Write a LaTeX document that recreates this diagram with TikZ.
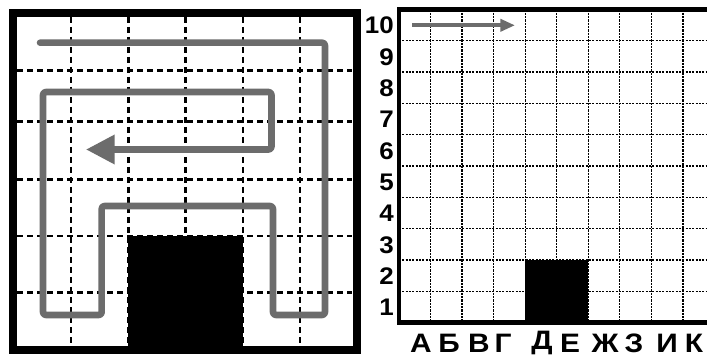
\documentclass[tikz,border=0pt]{standalone}
\usepackage{fontspec}
\setmainfont{Liberation Sans}
\usetikzlibrary{arrows.meta}
\definecolor{pathgray}{RGB}{108,108,108}
\newcommand{\widetxt}[2]{\scalebox{#1}[1]{#2}}
\begin{document}
\begin{tikzpicture}[x=0.75pt,y=-0.75pt,
  bigframe/.style={line width=6pt,draw=black},
  smallframe/.style={line width=3.4pt,draw=black},
  biggrid/.style={line width=1.9pt,draw=black,dash pattern=on 4.8pt off 2.7pt},
  smallgrid/.style={line width=0.95pt,draw=black,dash pattern=on 1.6pt off 0.9pt},
  route/.style={line width=4.9pt,draw=pathgray,rounded corners=2pt,line cap=round,line join=round},
  numlabel/.style={anchor=east,inner sep=0pt,font=\fontsize{18}{19}\selectfont\bfseries},
  letlabel/.style={inner sep=0pt,font=\fontsize{20}{21}\selectfont\bfseries}]
\useasboundingbox[fill=white] (0,0) rectangle (707,356);

% ---------- left panel ----------
\foreach \gx in {71.2,128.4,185.6,242.8,300}
  \draw[biggrid] (\gx,17) -- (\gx,344.5);
\foreach \gy in {70.7,121.7,179.3,236,292.7}
  \draw[biggrid] (17,\gy) -- (352,\gy);
\fill[black] (128.4,236) rectangle (242.8,350);
\coordinate (r0) at (40,42.7);
\coordinate (r1) at (325,42.7);
\coordinate (r2) at (325,315);
\coordinate (r3) at (273,315);
\coordinate (r4) at (273,206);
\coordinate (r5) at (101.7,206);
\coordinate (r6) at (101.7,315);
\coordinate (r7) at (43,315);
\coordinate (r8) at (43,92);
\coordinate (r9) at (271.5,92);
\coordinate (r10) at (271.5,149.5);
\coordinate (r11) at (86,149.5);
\draw[route,-{Triangle[length=21.5pt,width=21pt]}]
  (r0) -- (r1) -- (r2) -- (r3) -- (r4) -- (r5) -- (r6) -- (r7) -- (r8) -- (r9) -- (r10) -- (r11);
\draw[bigframe] (13,13) rectangle (357,349.5);

% ---------- right panel ----------
\foreach \k in {1,...,9}
  \draw[smallgrid] ({399+31.55*\k},9.5) -- ({399+31.55*\k},322.5);
\foreach \k in {1,...,9}
  \draw[smallgrid] (399,{9.5+31.3*\k}) -- (716,{9.5+31.3*\k});
\fill[black] (525,259.9) rectangle (588,322.5);
\coordinate (a0) at (412,25.3);
\coordinate (a1) at (515,25.3);
\draw[line width=3pt,draw=pathgray,-{Triangle[length=11pt,width=9pt]}] (a0) -- (a1);
\draw[smallframe] (399,9.5) rectangle (716,322.5);

\foreach \n in {1,...,10}
  \node[numlabel] (n\n) at (394,{9.5+31.3*(10-\n)+16.2}) {\widetxt{1.08}{\n}};

\node[letlabel] (lA) at (421,343) {\widetxt{1.12}{А}};
\node[letlabel] (lB) at (449,343) {\widetxt{1.12}{Б}};
\node[letlabel] (lV) at (479,343) {\widetxt{1.12}{В}};
\node[letlabel] (lG) at (503,343) {\widetxt{1.12}{Г}};
\node[letlabel] (lD) at (542,343) {\widetxt{1.12}{Д}};
\node[letlabel] (lE) at (570,343) {\widetxt{1.12}{Е}};
\node[letlabel] (lZh) at (605,343) {\widetxt{1.12}{Ж}};
\node[letlabel] (lZ) at (634,343) {\widetxt{1.12}{З}};
\node[letlabel] (lI) at (667,343) {\widetxt{1.12}{И}};
\node[letlabel] (lK) at (694,343) {\widetxt{1.12}{К}};
\end{tikzpicture}
\end{document}
